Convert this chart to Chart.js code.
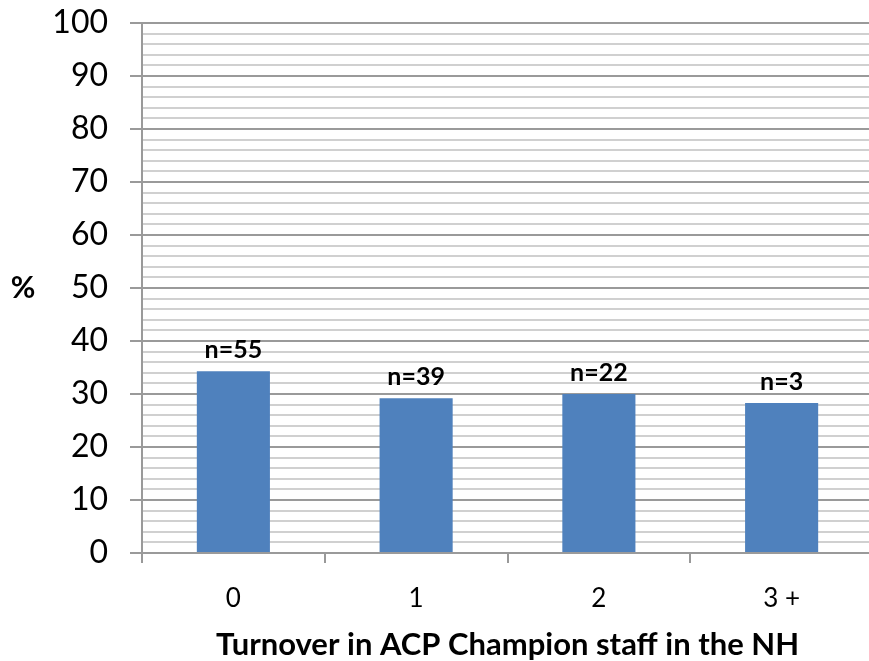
<!DOCTYPE html>
<html>
<head>
<meta charset="utf-8">
<script src="https://cdn.jsdelivr.net/npm/chart.js@4/dist/chart.umd.min.js"></script>
<style>
  html, body { margin: 0; padding: 0; background: #fff; overflow: hidden; }
  #wrap { position: relative; width: 878px; height: 661px; }
</style>
</head>
<body>
<div id="wrap"><canvas id="c"></canvas></div>
<script>
const categories = ['0', '1', '2', '3 +'];
const percentValues = [34.3, 29.2, 30.0, 28.3];
const sampleLabels = ['n=55', 'n=39', 'n=22', 'n=3'];
const yTickValues = [0, 10, 20, 30, 40, 50, 60, 70, 80, 90, 100];
const xAxisTitle = 'Turnover in ACP Champion staff in the NH';
const yAxisTitle = '%';

const FONT = 'Lato, "Open Sans", sans-serif';

const labelPlugin = {
  id: 'nLabels',
  afterDatasetsDraw(chart) {
    const ctx = chart.ctx;
    const meta = chart.getDatasetMeta(0);
    ctx.save();
    ctx.font = 'bold 25px ' + FONT;
    ctx.fillStyle = '#000';
    ctx.textAlign = 'center';
    ctx.textBaseline = 'bottom';
    meta.data.forEach((bar, i) => {
      ctx.fillText(sampleLabels[i], bar.x, bar.y - 9);
    });
    const ys = chart.scales.y;
    ctx.font = 'bold 30px ' + FONT;
    ctx.textAlign = 'center';
    ctx.textBaseline = 'middle';
    ctx.fillText(yAxisTitle, 23, ys.getPixelForValue(50));
    ctx.restore();
  }
};

new Chart(document.getElementById('c'), {
  type: 'bar',
  data: {
    labels: categories,
    datasets: [{
      data: percentValues,
      backgroundColor: '#4F81BD',
      borderWidth: 0,
      categoryPercentage: 0.4,
      barPercentage: 1.0
    }]
  },
  options: {
    responsive: true,
    maintainAspectRatio: false,
    animation: false,
    events: [],
    layout: { padding: { top: 23, right: 5, left: 0, bottom: 0 } },
    plugins: {
      legend: { display: false },
      tooltip: { enabled: false }
    },
    scales: {
      x: {
        offset: true,
        grid: {
          offset: true,
          drawOnChartArea: false,
          drawTicks: true,
          tickLength: 10,
          color: '#999',
          lineWidth: 2
        },
        border: { display: false },
        ticks: {
          color: '#000',
          font: { family: FONT, size: 26 },
          padding: 20
        },
        title: {
          display: true,
          text: xAxisTitle,
          color: '#000',
          font: { family: FONT, size: 31, weight: 'bold' },
          padding: { top: 8, bottom: -3 }
        },
        afterFit(scale) { scale.height = 108; scale.paddingLeft = 0; scale.paddingRight = 0; }
      },
      y: {
        min: 0,
        max: 100,
        afterBuildTicks(scale) {
          const t = [];
          for (let v = 0; v <= 100; v += 2) t.push({ value: v });
          scale.ticks = t;
        },
        ticks: {
          color: '#000',
          font: { family: FONT, size: 32 },
          padding: 22,
          autoSkip: false,
          callback(v) { return yTickValues.includes(v) ? String(v) : ''; }
        },
        grid: {
          drawTicks: true,
          tickLength: 12,
          lineWidth: 2,
          color(ctx) {
            return (ctx.tick && ctx.tick.value % 10 === 0) ? '#9a9a9a' : '#d0d0d0';
          },
          tickColor(ctx) {
            return (ctx.tick && ctx.tick.value % 10 === 0) ? '#9a9a9a' : 'rgba(0,0,0,0)';
          }
        },
        border: { display: true, color: '#9a9a9a', width: 2 },
        afterFit(scale) { scale.width = 142; scale.paddingTop = 0; scale.paddingBottom = 0; }
      }
    }
  },
  plugins: [labelPlugin]
});
</script>
</body>
</html>
